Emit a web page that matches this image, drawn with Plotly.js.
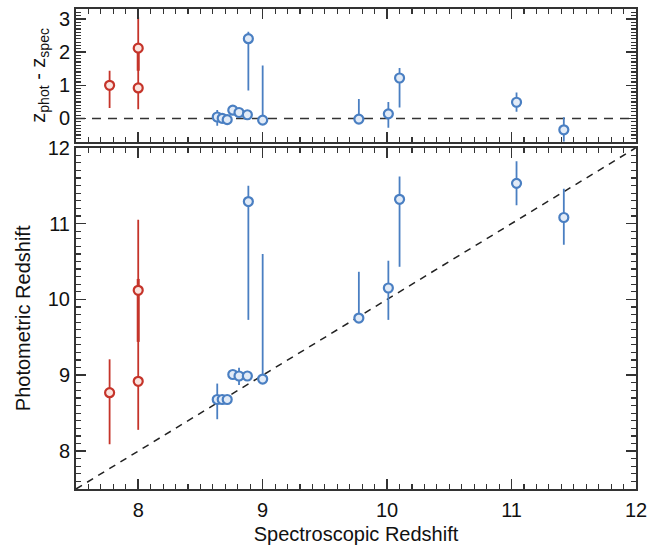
<!DOCTYPE html>
<html><head><meta charset="utf-8">
<script src="https://cdn.plot.ly/plotly-3.0.1.min.js"></script>
<style>html,body{margin:0;padding:0;background:#fff}</style>
</head><body><div id="chart" style="width:652px;height:550px"></div>
<script>
// Data
const redZspec     = [7.77, 8.00, 8.00];
const redZphot     = [8.77, 10.12, 8.92];
const redErrPlus   = [0.44, 0.15, 2.13];
const redErrMinus  = [0.68, 0.68, 0.64];

const blueZspec    = [8.635, 8.675, 8.715, 8.76, 8.81, 8.877, 8.885, 9.00, 9.773, 10.01, 10.10, 11.04, 11.42];
const blueZphot    = [8.68, 8.68, 8.68, 9.01, 8.99, 8.99, 11.29, 8.95, 9.754, 10.15, 11.32, 11.53, 11.08];
const blueErrPlus  = [0.21, 0.0, 0.04, 0.06, 0.11, 0.0, 0.21, 1.65, 0.61, 0.36, 0.30, 0.29, 0.38];
const blueErrMinus = [0.26, 0.0, 0.04, 0.06, 0.12, 0.0, 1.56, 0.02, 0.06, 0.42, 0.89, 0.29, 0.36];

const xRange = [7.5, 12];
const bottomYRange = [7.5, 12];
const topYRange = [-0.7, 3.3];
const xTicks = [8, 9, 10, 11, 12];
const bottomYTicks = [8, 9, 10, 11, 12];
const topYTicks = [0, 1, 2, 3];

const RED = '#c5342a', RED_FILL = '#fbe4df';
const BLUE = '#4a7fc2', BLUE_FILL = '#e2ebf7';
const FONT = 'Liberation Sans, Arial, Helvetica, sans-serif';

const diff = (p, s) => p.map((v, i) => v - s[i]);
const pick = (arr, idx) => idx.map(i => arr[i]);

function pts(xs, ys, ep, em, color, fill, xa, ya, thick) {
  return {
    type: 'scatter', mode: 'markers', x: xs, y: ys, xaxis: xa, yaxis: ya,
    showlegend: false, hoverinfo: 'skip',
    marker: {symbol: 'circle', size: 9, color: fill, line: {color: color, width: 2.2}},
    error_y: {type: 'data', symmetric: false, array: ep, arrayminus: em,
              color: color, thickness: thick, width: 0}
  };
}

const redThin = [0, 2], redThick = [1];
const redDelta = diff(redZphot, redZspec);
const blueDelta = diff(blueZphot, blueZspec);

const traces = [
  // reference lines
  {type:'scatter', mode:'lines', x: xRange, y: bottomYRange, xaxis:'x', yaxis:'y',
   line:{color:'#222', width:1.5, dash:'7px,6px'}, showlegend:false, hoverinfo:'skip'},
  {type:'scatter', mode:'lines', x: xRange, y: [0, 0], xaxis:'x2', yaxis:'y2',
   line:{color:'#333', width:1.5, dash:'9px,7px'}, showlegend:false, hoverinfo:'skip'},
  // bottom panel
  pts(pick(redZspec, redThin), pick(redZphot, redThin), pick(redErrPlus, redThin), pick(redErrMinus, redThin), RED, RED_FILL, 'x', 'y', 1.8),
  pts(pick(redZspec, redThick), pick(redZphot, redThick), pick(redErrPlus, redThick), pick(redErrMinus, redThick), RED, RED_FILL, 'x', 'y', 3),
  pts(blueZspec, blueZphot, blueErrPlus, blueErrMinus, BLUE, BLUE_FILL, 'x', 'y', 1.8),
  // top panel
  pts(pick(redZspec, redThin), pick(redDelta, redThin), pick(redErrPlus, redThin), pick(redErrMinus, redThin), RED, RED_FILL, 'x2', 'y2', 1.8),
  pts(pick(redZspec, redThick), pick(redDelta, redThick), pick(redErrPlus, redThick), pick(redErrMinus, redThick), RED, RED_FILL, 'x2', 'y2', 3),
  pts(blueZspec, blueDelta, blueErrPlus, blueErrMinus, BLUE, BLUE_FILL, 'x2', 'y2', 1.8)
];

const axisCommon = {
  showline: true, linecolor: '#333', linewidth: 2, mirror: 'allticks',
  ticks: 'inside', ticklen: 10, tickwidth: 1.5, tickcolor: '#333',
  showgrid: false, zeroline: false,
  tickfont: {family: FONT, size: 20, color: '#111'},
  minor: {dtick: 0.1, ticks: 'inside', ticklen: 5, tickwidth: 1.2, tickcolor: '#333', showgrid: false}
};

const layout = {
  width: 652, height: 550,
  margin: {l: 76, r: 16, t: 9, b: 61},
  paper_bgcolor: '#fff', plot_bgcolor: '#fff',
  font: {family: FONT, color: '#111'},
  xaxis: Object.assign({}, axisCommon, {
    anchor: 'y', range: xRange, tickvals: xTicks, ticklabelstandoff: 2,
    title: {text: 'Spectroscopic Redshift', font: {family: FONT, size: 20, color: '#111'}, standoff: 7}
  }),
  yaxis: Object.assign({}, axisCommon, {
    anchor: 'x', domain: [0, 0.711], range: bottomYRange, tickvals: bottomYTicks,
    title: {text: 'Photometric Redshift', font: {family: FONT, size: 20, color: '#111'}, standoff: 12}
  }),
  xaxis2: Object.assign({}, axisCommon, {
    anchor: 'y2', range: xRange, tickvals: xTicks.slice(0, 4), showticklabels: false
  }),
  yaxis2: Object.assign({}, axisCommon, {
    anchor: 'x2', domain: [0.7235, 1], range: topYRange, tickvals: topYTicks,
    title: {text: 'z<sub>phot</sub> - z<sub>spec</sub>', font: {family: FONT, size: 20, color: '#111'}, standoff: 8}
  })
};

Plotly.newPlot('chart', traces, layout, {displayModeBar: false, staticPlot: true});
</script></body></html>
